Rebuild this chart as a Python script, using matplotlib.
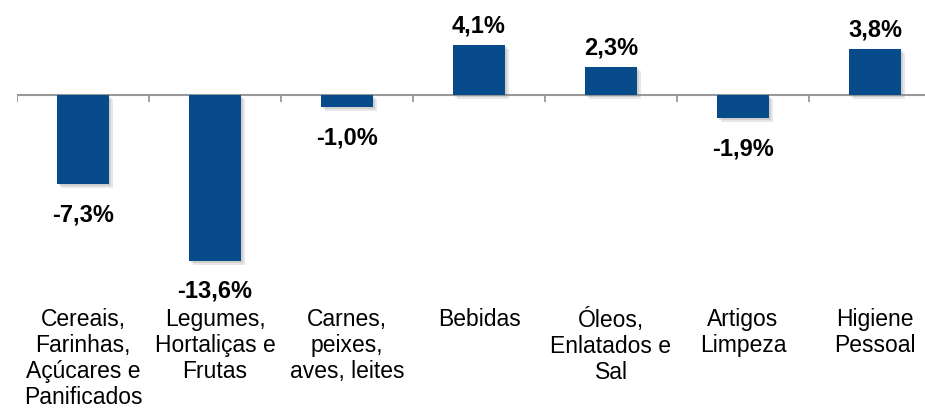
import matplotlib.pyplot as plt
import matplotlib.patheffects as pe

# variação por categoria
categories = ["Cereais,\nFarinhas,\nAçúcares e\nPanificados",
              "Legumes,\nHortaliças e\nFrutas",
              "Carnes,\npeixes,\naves, leites",
              "Bebidas",
              "Óleos,\nEnlatados e\nSal",
              "Artigos\nLimpeza",
              "Higiene\nPessoal"]
values = [-7.3, -13.6, -1.0, 4.1, 2.3, -1.9, 3.8]
labels = ["-7,3%", "-13,6%", "-1,0%", "4,1%", "2,3%", "-1,9%", "3,8%"]

plt.rcParams['font.family'] = ['Liberation Sans', 'DejaVu Sans']

fig = plt.figure(figsize=(9.25, 4.1), dpi=100)
ax = fig.add_axes([17 / 925, 143.2 / 410, 924 / 925, 231.8 / 410])

x = list(range(len(values)))
bars = ax.bar(x, values, width=0.395, color='#084B8A', zorder=3)
for b in bars:
    b.set_path_effects([pe.SimplePatchShadow(offset=(3, -3), shadow_rgbFace='#888888', alpha=0.2),
                        pe.SimplePatchShadow(offset=(1.5, -1.5), shadow_rgbFace='#888888', alpha=0.25),
                        pe.Normal()])

ax.set_xlim(-0.5, 6.5)
ax.set_ylim(-14, 5)

# linha do eixo e marcas entre categorias
ax.axhline(0, color='#999999', lw=1.5, zorder=2)
ax.vlines([i - 0.5 for i in range(len(values) + 1)], -0.55, 0, color='#999999', lw=1.3, zorder=2)

for xi, v, lab in zip(x, values, labels):
    if v >= 0:
        ax.annotate(lab, (xi, v), xytext=(0, 6), textcoords='offset points',
                    ha='center', va='bottom', fontsize=17, fontweight='bold')
    else:
        ax.annotate(lab, (xi, v), xytext=(0, -13), textcoords='offset points',
                    ha='center', va='top', fontsize=17, fontweight='bold')

for s in ax.spines.values():
    s.set_visible(False)
ax.set_yticks([])
ax.set_xticks(x)
ax.set_xticklabels(categories, fontsize=16.5, linespacing=1.15)
ax.tick_params(axis='x', length=0, pad=30)

fig.savefig('out.png', dpi=100)
